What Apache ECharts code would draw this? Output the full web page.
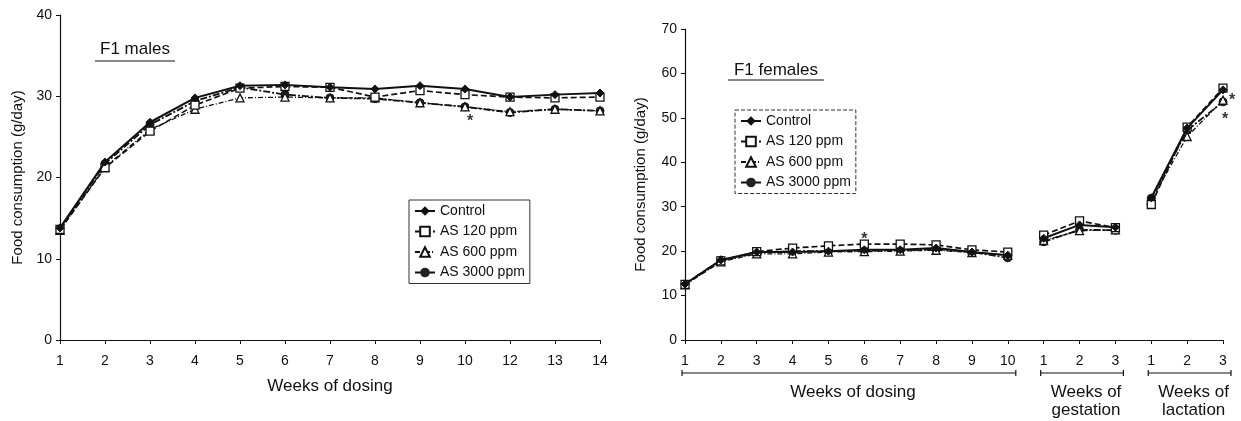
<!DOCTYPE html>
<html><head><meta charset="utf-8">
<script src="https://cdn.jsdelivr.net/npm/echarts@6/dist/echarts.min.js"></script>
<style>html,body{margin:0;padding:0;background:#fff}#c{width:1241px;height:421px}</style>
</head><body><div id="c"></div>
<script>
// ---- data ----
const seriesNames = ['Control', 'AS 120 ppm', 'AS 600 ppm', 'AS 3000 ppm'];
// Left: F1 males
const maleWeeks = ['1','2','3','4','5','6','7','8','9','10','12','13','14'];
const maleControl = [13.8, 21.9, 26.8, 29.8, 31.3, 31.4, 31.1, 30.9, 31.3, 30.9, 29.9, 30.2, 30.4];
const male120     = [13.6, 21.2, 25.7, 28.9, 31.0, 31.2, 31.1, 29.9, 30.7, 30.2, 29.9, 29.8, 29.9];
const male600     = [13.5, 21.3, 25.9, 28.4, 29.8, 29.9, 29.8, 29.8, 29.2, 28.7, 28.1, 28.4, 28.2];
const male3000    = [13.7, 21.7, 26.5, 29.4, 31.1, 30.2, 29.8, 29.7, 29.2, 28.7, 28.0, 28.4, 28.2];
const maleStars = [['10', 27.4]];
// Right: F1 females
const dosingWeeks = ['1','2','3','4','5','6','7','8','9','10'];
const gestWeeks = ['1','2','3'];
const lactWeeks = ['1','2','3'];
const femControlDos = [12.6, 18.0, 19.8, 19.8, 20.0, 20.3, 20.3, 20.7, 19.8, 19.1];
const fem120Dos     = [12.5, 17.8, 19.9, 20.7, 21.2, 21.6, 21.6, 21.4, 20.3, 19.8];
const fem600Dos     = [12.4, 17.6, 19.4, 19.4, 19.8, 19.9, 20.0, 20.2, 19.7, 19.1];
const fem3000Dos    = [12.6, 18.0, 19.6, 20.0, 20.0, 20.1, 20.2, 20.4, 19.8, 18.5];
const femControlGest = [22.9, 25.9, 25.4];
const fem120Gest     = [23.6, 26.8, 25.3];
const fem600Gest     = [22.4, 24.6, 24.8];
const fem3000Gest    = [22.1, 24.8, 24.7];
const femControlLact = [32.0, 47.7, 56.3];
const fem120Lact     = [30.5, 47.9, 56.7];
const fem600Lact     = [31.5, 45.8, 54.0];
const fem3000Lact    = [31.9, 47.2, 53.6];
const femStars = [['d6', 23.6], ['l3', 54.7], ['l3', 50.4]];

// ---- styles (not data) ----
const maleStarOffsets = [[5, 4]];
const femStarOffsets = [[0, 4], [9, 4], [2, 4]];

// ---- build ----
const femCats = dosingWeeks.map(w => 'd' + w).concat(gestWeeks.map(w => 'g' + w), lactWeeks.map(w => 'l' + w));
const femTickLabels = dosingWeeks.concat(gestWeeks, lactWeeks);
const nD = dosingWeeks.length, nG = gestWeeks.length;
function seg(arr, start) {
  const out = new Array(femCats.length).fill(null);
  arr.forEach((v, i) => { out[start + i] = v; });
  return out;
}
const styles = [
  { symbol: 'diamond', symbolSize: 8, itemStyle: { color: '#111', borderColor: '#111' }, lineStyle: { color: '#111', width: 2, type: 'solid' } },
  { symbol: 'rect', symbolSize: 8, itemStyle: { color: '#fff', borderColor: '#111', borderWidth: 1.3 }, lineStyle: { color: '#111', width: 1.7, type: [6, 3] } },
  { symbol: 'triangle', symbolSize: 8, itemStyle: { color: '#fff', borderColor: '#111', borderWidth: 1.3 }, lineStyle: { color: '#111', width: 1.3, type: [5, 2, 1, 2] } },
  { symbol: 'circle', symbolSize: 8, itemStyle: { color: '#222', borderColor: '#111' }, lineStyle: { color: '#111', width: 1.8, type: [7, 2, 2, 2] } }
];
function lineSeries(name, idx, data, axisIdx) {
  return Object.assign({
    type: 'line', name: name, data: data, xAxisIndex: axisIdx, yAxisIndex: axisIdx,
    showAllSymbol: true, connectNulls: false, animation: false, z: 5 - idx
  }, JSON.parse(JSON.stringify(styles[idx])));
}
const maleData = [maleControl, male120, male600, male3000];
const femDos = [femControlDos, fem120Dos, fem600Dos, fem3000Dos];
const femGest = [femControlGest, fem120Gest, fem600Gest, fem3000Gest];
const femLact = [femControlLact, fem120Lact, fem600Lact, fem3000Lact];

const FONT = 'Liberation Sans';
const series = [];
seriesNames.forEach((n, i) => series.push(lineSeries(n, i, maleData[i], 0)));
seriesNames.forEach((n, i) => {
  series.push(lineSeries(n, i, seg(femDos[i], 0), 1));
  series.push(lineSeries(n, i, seg(femGest[i], nD), 1));
  series.push(lineSeries(n, i, seg(femLact[i], nD + nG), 1));
});
const starSeries = (data, offsets, ax) => ({
  type: 'scatter', xAxisIndex: ax, yAxisIndex: ax, symbolSize: 0, silent: true, animation: false, z: 10,
  data: data.map((d, i) => ({ value: d, label: { offset: offsets[i] } })),
  label: { show: true, formatter: '*', position: 'inside', color: '#000', fontSize: 16, fontWeight: 'bold', fontFamily: FONT }
});
series.push(starSeries(maleStars, maleStarOffsets, 0));
series.push(starSeries(femStars, femStarOffsets, 1));

const axisLine = { show: true, lineStyle: { color: '#111', width: 1.2 } };
const tick = { show: true, length: 4, lineStyle: { color: '#111' } };
const tickLbl = { color: '#111', fontSize: 14, fontFamily: FONT };
const nameStyle = { color: '#111', fontSize: 15, fontFamily: FONT };
const legendCommon = {
  orient: 'vertical', itemWidth: 20, itemHeight: 12, itemGap: 6.5,
  textStyle: { color: '#111', fontSize: 14, fontFamily: FONT },
  borderColor: '#333', borderWidth: 1, padding: [4, 5, 4, 5], data: seriesNames,
  selectedMode: false, backgroundColor: '#fff'
};

const chart = echarts.init(document.getElementById('c'), null, { renderer: 'canvas' });
const option = {
  animation: false,
  backgroundColor: '#fff',
  grid: [
    { left: 60, top: 15, width: 540, height: 325 },
    { left: 685, top: 29, width: 538, height: 311 }
  ],
  xAxis: [
    { type: 'category', gridIndex: 0, data: maleWeeks, boundaryGap: false, axisLine, axisTick: tick,
      axisLabel: Object.assign({ margin: 14 }, tickLbl), splitLine: { show: false },
      name: 'Weeks of dosing', nameLocation: 'middle', nameGap: 38, nameTextStyle: Object.assign({}, nameStyle, { fontSize: 17 }) },
    { type: 'category', gridIndex: 1, data: femCats, boundaryGap: false, axisLine, axisTick: tick,
      axisLabel: Object.assign({ margin: 14, interval: 0, formatter: (v, i) => femTickLabels[i] }, tickLbl), splitLine: { show: false } }
  ],
  yAxis: [
    { type: 'value', gridIndex: 0, min: 0, max: 40, interval: 10, axisLine, axisTick: tick, axisLabel: Object.assign({ margin: 8 }, tickLbl), splitLine: { show: false },
      name: 'Food consumption (g/day)', nameLocation: 'middle', nameGap: 35, nameTextStyle: nameStyle },
    { type: 'value', gridIndex: 1, min: 0, max: 70, interval: 10, axisLine, axisTick: tick, axisLabel: Object.assign({ margin: 8 }, tickLbl), splitLine: { show: false },
      name: 'Food consumption (g/day)', nameLocation: 'middle', nameGap: 37, nameTextStyle: nameStyle }
  ],
  legend: [
    Object.assign({ left: 409, top: 200 }, legendCommon),
    Object.assign({ left: 735, top: 110 }, legendCommon, { borderType: 'dashed' })
  ],
  series: series,
  graphic: []
};
chart.setOption(option);

// annotations (titles and brackets)
const g = [];
const tFont = '17px "Liberation Sans"';
g.push({ type: 'text', x: 135, y: 49, style: { text: 'F1 males', fill: '#111', font: tFont, textAlign: 'center', textVerticalAlign: 'middle' } });
g.push({ type: 'line', shape: { x1: 95, y1: 61, x2: 175, y2: 61 }, style: { stroke: '#111', lineWidth: 1.2 } });
g.push({ type: 'text', x: 776, y: 70, style: { text: 'F1 females', fill: '#111', font: tFont, textAlign: 'center', textVerticalAlign: 'middle' } });
g.push({ type: 'line', shape: { x1: 728, y1: 80, x2: 824, y2: 80 }, style: { stroke: '#111', lineWidth: 1.2 } });
const groups = [
  { from: 'd1', to: 'd10', text: 'Weeks of dosing' },
  { from: 'g1', to: 'g3', text: 'Weeks of\ngestation' },
  { from: 'l1', to: 'l3', text: 'Weeks of\nlactation' }
];
const by = 373;
groups.forEach(gr => {
  const x1 = chart.convertToPixel({ xAxisIndex: 1 }, gr.from) - 3;
  const x2 = chart.convertToPixel({ xAxisIndex: 1 }, gr.to) + 8;
  g.push({ type: 'line', shape: { x1, y1: by, x2, y2: by }, style: { stroke: '#111', lineWidth: 1.2 } });
  g.push({ type: 'line', shape: { x1, y1: by - 3, x2: x1, y2: by + 3 }, style: { stroke: '#111', lineWidth: 1.2 } });
  g.push({ type: 'line', shape: { x1: x2, y1: by - 3, x2, y2: by + 3 }, style: { stroke: '#111', lineWidth: 1.2 } });
  g.push({ type: 'text', x: (x1 + x2) / 2 + 4, y: by + 10, style: { text: gr.text, fill: '#111', font: tFont, textAlign: 'center', textVerticalAlign: 'top', lineHeight: 18 } });
});
chart.setOption({ graphic: g });
</script>
</body></html>
